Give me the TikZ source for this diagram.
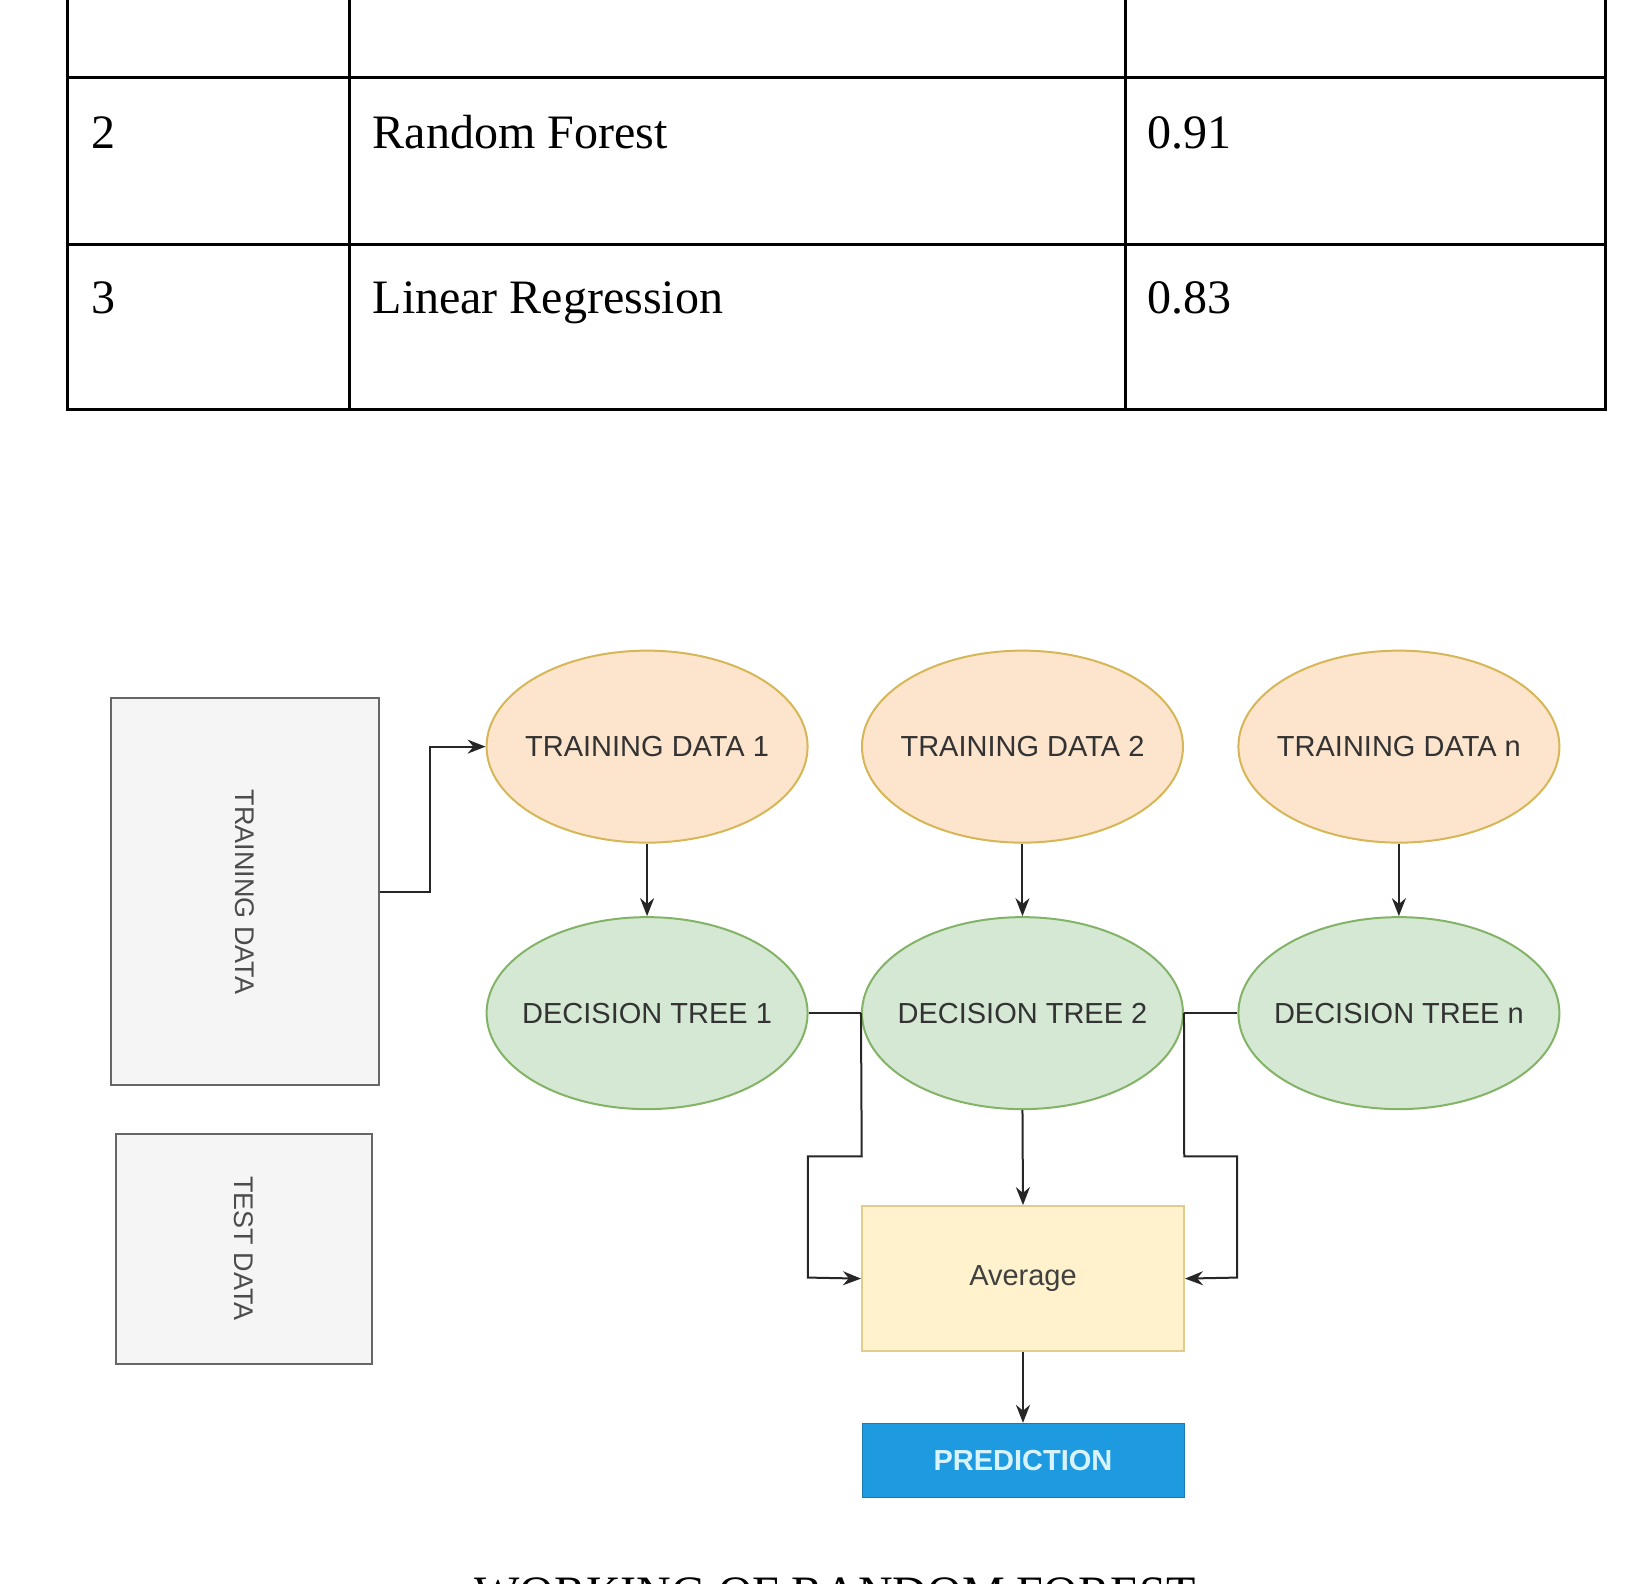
\documentclass[tikz,border=0pt]{standalone}
\usepackage{fontspec}
\setmainfont{Liberation Serif}
\newfontfamily\diag{Liberation Sans}
\usetikzlibrary{shapes.geometric,arrows.meta}
\definecolor{tdfill}{RGB}{252,228,205}
\definecolor{tddraw}{RGB}{214,182,86}
\definecolor{dtfill}{RGB}{213,232,212}
\definecolor{dtdraw}{RGB}{130,179,102}
\definecolor{avfill}{RGB}{255,242,204}
\definecolor{predfill}{RGB}{30,155,224}
\begin{document}
\begin{tikzpicture}[x=1.037pt,y=-1.037pt,
  tline/.style={line width=3pt},
  ell/.style={ellipse,minimum width=321pt,minimum height=192pt,inner sep=0pt,line width=2pt},
  elltext/.style={font=\diag\fontsize{29}{31}\selectfont,text=black!80},
  tdata/.style={ell,draw=tddraw,fill=tdfill},
  dtree/.style={ell,draw=dtdraw,fill=dtfill},
  gbox/.style={draw=black!60,fill=black!4,line width=2pt},
  conn/.style={line width=2pt,black!85},
  arr/.style={conn,-{Stealth[length=18pt,width=14pt]}},
  ttext/.style={anchor=base west,font=\fontsize{48}{52}\selectfont}]
\useasboundingbox (0,0) rectangle (1568,1527.5);
\clip (0,0) rectangle (1568,1527.5);
% table
\draw[tline] (65,0) -- (65,395) -- (1548,395) -- (1548,0);
\draw[tline] (337,0) -- (337,395);
\draw[tline] (1085,0) -- (1085,395);
\draw[tline] (65,75) -- (1548,75);
\draw[tline] (65,236) -- (1548,236);
\node[ttext] (r2a) at (85,143) {2};
\node[ttext] (r2b) at (356,143) {Random Forest};
\node[ttext] (r2c) at (1103,143) {0.91};
\node[ttext] (r3a) at (85,302) {3};
\node[ttext] (r3b) at (356,302) {Linear Regression};
\node[ttext] (r3c) at (1103,302) {0.83};
% diagram
\node[gbox,minimum width=268pt,minimum height=387pt] (train) at (236,860) {};
\node[rotate=-90,font=\diag\fontsize{27}{29}\selectfont,text=black!70] at (236,860) {TRAINING DATA};
\node[gbox,minimum width=256pt,minimum height=230pt] (test) at (235.5,1204) {};
\node[rotate=-90,font=\diag\fontsize{27}{29}\selectfont,text=black!70] at (235.5,1204) {TEST DATA};
\node[tdata] (td1) at (624,720) {};
\node[tdata] (td2) at (986,720) {};
\node[tdata] (tdn) at (1349,720) {};
\node[dtree] (dt1) at (624,977) {};
\node[dtree] (dt2) at (986,977) {};
\node[dtree] (dtn) at (1349,977) {};
\node[elltext] at (td1) {TRAINING DATA 1};
\node[elltext] at (td2) {TRAINING DATA 2};
\node[elltext] at (tdn) {TRAINING DATA n};
\node[elltext] at (dt1) {DECISION TREE 1};
\node[elltext] at (dt2) {DECISION TREE 2};
\node[elltext] at (dtn) {DECISION TREE n};
\node[draw=tddraw!70,fill=avfill,line width=2pt,minimum width=322pt,minimum height=145pt,font=\diag\fontsize{29}{31}\selectfont,text=black!75] (avg) at (986.5,1233) {Average};
\node[draw=predfill!80!black,fill=predfill,minimum width=322pt,minimum height=74pt,font=\diag\bfseries\fontsize{29}{31}\selectfont,text=white!85!cyan] (pred) at (986.5,1408) {PREDICTION};
\coordinate (a1) at (415,860);
\coordinate (a2) at (415,720);
\draw[arr] (train.east |- a1) -- (a1) -- (a2) -- (td1.west);
\draw[arr] (td1.south) -- (dt1.north);
\draw[arr] (td2.south) -- (dt2.north);
\draw[arr] (tdn.south) -- (dtn.north);
\draw[conn] (dt1.east) -- (dt2.west);
\draw[conn] (dt2.east) -- (dtn.west);
\draw[arr] (dt2.south) -- (avg.north);
\draw[arr] (dt2.west) -- (831,1115) -- (779,1115) -- (779,1232) -- (avg.west);
\draw[arr] (dt2.east) -- (1142,1115) -- (1193,1115) -- (1193,1232) -- (avg.east);
\draw[arr] (avg.south) -- (pred.north);
\node[font=\fontsize{48}{52}\selectfont,anchor=base] (cap) at (805,1552) {WORKING OF RANDOM FOREST};
\end{tikzpicture}
\end{document}
